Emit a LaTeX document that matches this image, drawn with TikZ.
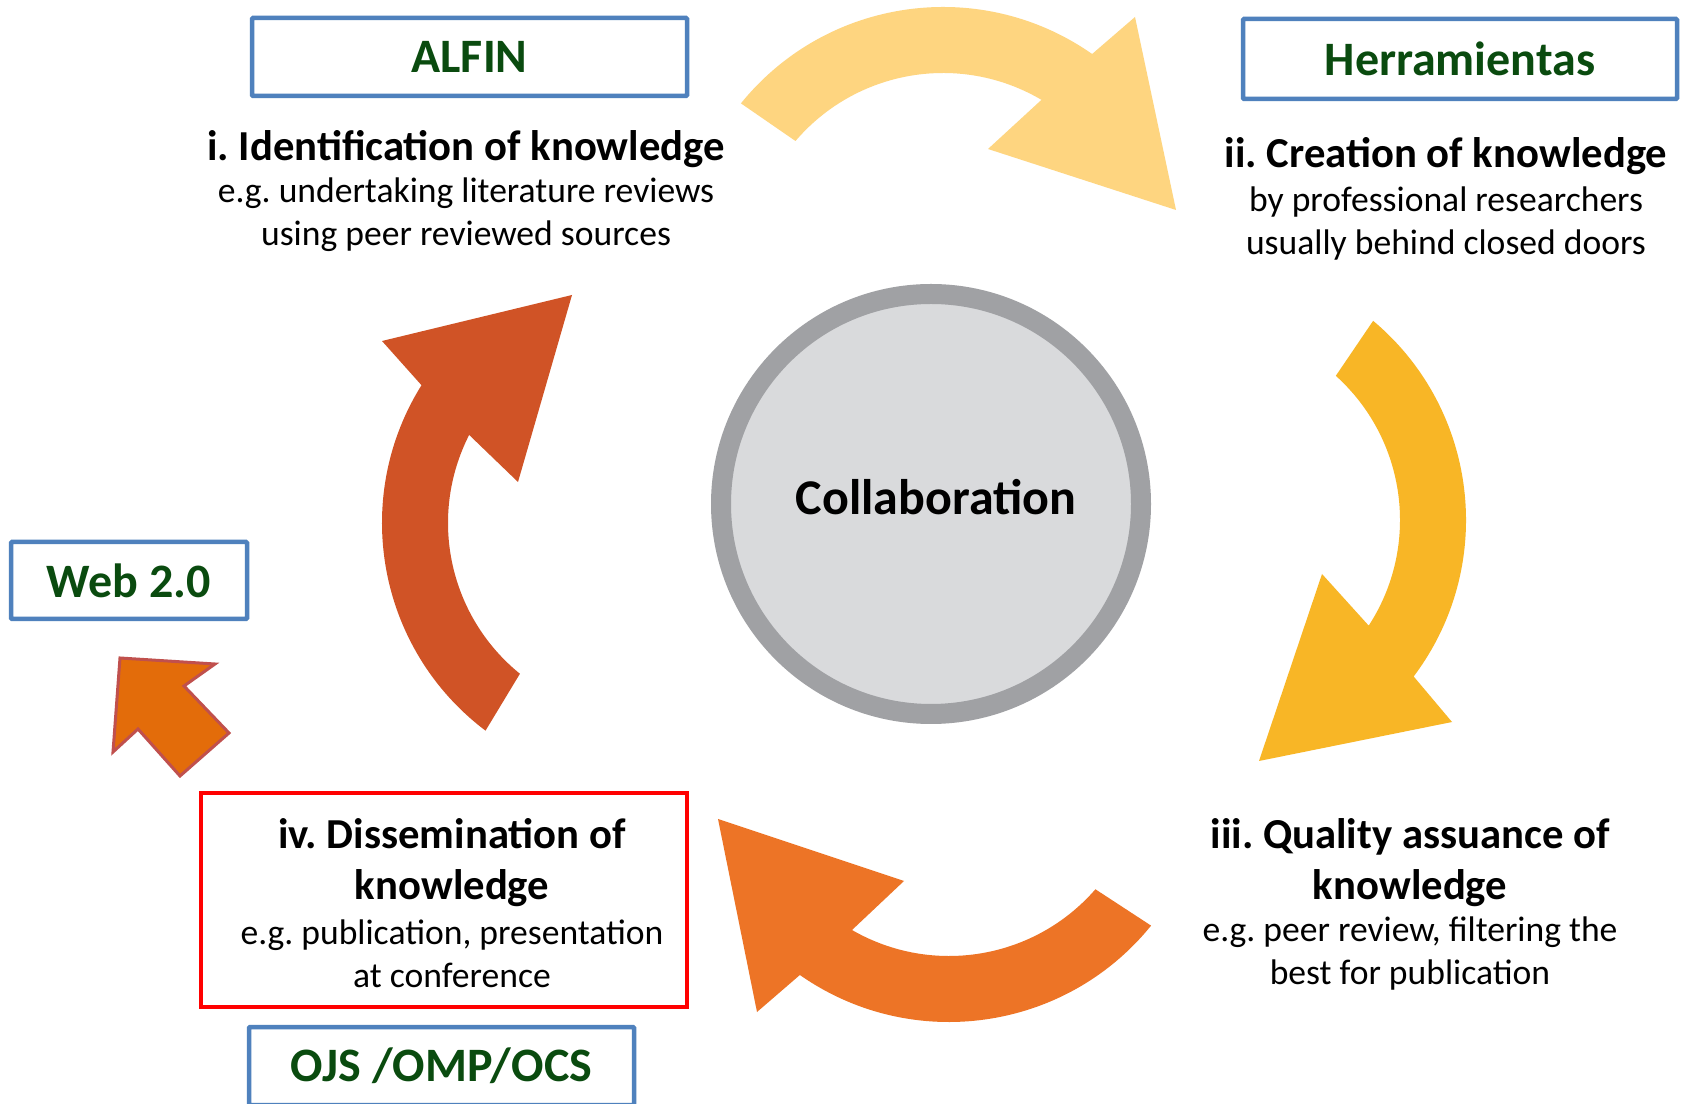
\documentclass[tikz,border=0pt]{standalone}
\usepackage{fontspec}
\setmainfont{Carlito}
\usetikzlibrary{positioning}
\definecolor{boxblue}{RGB}{79,129,189}
\definecolor{labelgreen}{RGB}{10,75,15}
\definecolor{ringgrey}{RGB}{160,161,164}
\definecolor{discgrey}{RGB}{217,218,220}
\definecolor{arrowpale}{RGB}{254,213,128}
\definecolor{arrowgold}{RGB}{248,182,38}
\definecolor{arroworange}{RGB}{237,116,38}
\definecolor{arrowrust}{RGB}{208,83,38}
\definecolor{webfill}{RGB}{227,108,10}
\definecolor{webedge}{RGB}{192,80,77}
\newcommand\titlefont{\fontsize{42.7}{51}\selectfont\bfseries}
\newcommand\notefont{\fontsize{35.6}{43}\selectfont}
\newcommand\labelfont{\fontsize{48}{56}\selectfont\bfseries}
\frenchspacing

\begin{document}
\begin{tikzpicture}[x=1pt,y=1pt,
  toolbox/.style={draw=boxblue,line width=4.5pt,rounded corners=1pt,minimum height=78pt,font=\labelfont,text=labelgreen},
  stagetitle/.style={font=\titlefont,align=center,inner sep=0pt},
  stagenote/.style={font=\notefont,align=center,inner sep=0pt}]
\path[use as bounding box,fill=white] (0,0) rectangle (1683,1103);

% the four turning arrows
\coordinate (c1) at (943,836);
\coordinate (c2) at (1206,583);
\coordinate (c3) at (949,341);
\coordinate (c4) at (642,580);
\fill[arrowpale] ([shift={(141:260)}]c1) arc[start angle=141,end angle=55,radius=260pt]
  -- (1135,1086) -- (1176,893) -- (988,954)
  -- ([shift={(59.5:194)}]c1) arc[start angle=59.5,end angle=139.5,radius=194pt] -- cycle;
\fill[arrowgold] ([shift={(50:260)}]c2) arc[start angle=50,end angle=-37,radius=260pt]
  -- (1452,381) -- (1259,342) -- (1322,529)
  -- ([shift={(-33:194)}]c2) arc[start angle=-33,end angle=48,radius=194pt] -- cycle;
\fill[arroworange] ([shift={(-39:260)}]c3) arc[start angle=-39,end angle=-125,radius=260pt]
  -- (757,91) -- (718,284) -- (904,222)
  -- ([shift={(-120:194)}]c3) arc[start angle=-120,end angle=-41,radius=194pt] -- cycle;
\fill[arrowrust] ([shift={(233:260)}]c4) arc[start angle=233,end angle=148,radius=260pt]
  -- (382,762) -- (572,808) -- (518,621)
  -- ([shift={(153:194)}]c4) arc[start angle=153,end angle=231,radius=194pt] -- cycle;

% centre
\node[circle,minimum size=420pt,fill=discgrey,draw=ringgrey,line width=20pt] (collab) at (931,599) {};
\node[font=\fontsize{50}{58}\selectfont\bfseries] (collabtxt) at (936,606) {Collaboration};

% stages
\node[stagetitle] (ident) at (466,954) {i. Identification of knowledge};
\node[stagenote] (identtxt) at (466,888) {e.g. undertaking literature reviews\\using peer reviewed sources};
\node[stagetitle] (create) at (1446,947) {ii. Creation of knowledge};
\node[stagenote] (createtxt) at (1446,879.5) {by professional researchers\\usually behind closed doors};
\node[stagetitle] (quality) at (1410,240) {iii. Quality assuance of\\knowledge};
\node[stagenote] (qualitytxt) at (1410,149) {e.g. peer review, filtering the\\best for publication};
\node[draw=red,line width=4.5pt,minimum width=486pt,minimum height=214pt] (dissembox) at (444,203) {};
\node[stagetitle] (dissem) at (452,240) {iv. Dissemination of\\knowledge};
\node[stagenote] (dissemtxt) at (452,149) {e.g. publication, presentation\\at conference};

% tools
\node[toolbox,minimum width=435pt] (alfin) at (469.5,1046) {ALFIN};
\node[toolbox,minimum width=434pt,minimum height=80pt] (herram) at (1460,1044) {Herramientas};
\node[toolbox,minimum width=236pt,minimum height=77pt] (web) at (129,522.5) {Web 2.0};
\node[toolbox,minimum width=385pt] (ojs) at (441.5,37) {OJS /OMP/OCS};
\draw[webedge,fill=webfill,line width=3pt] (120,445) -- (215,439) -- (184,417) -- (229,370)
  -- (180,327) -- (138,374) -- (113,351) -- cycle;
\end{tikzpicture}
\end{document}
